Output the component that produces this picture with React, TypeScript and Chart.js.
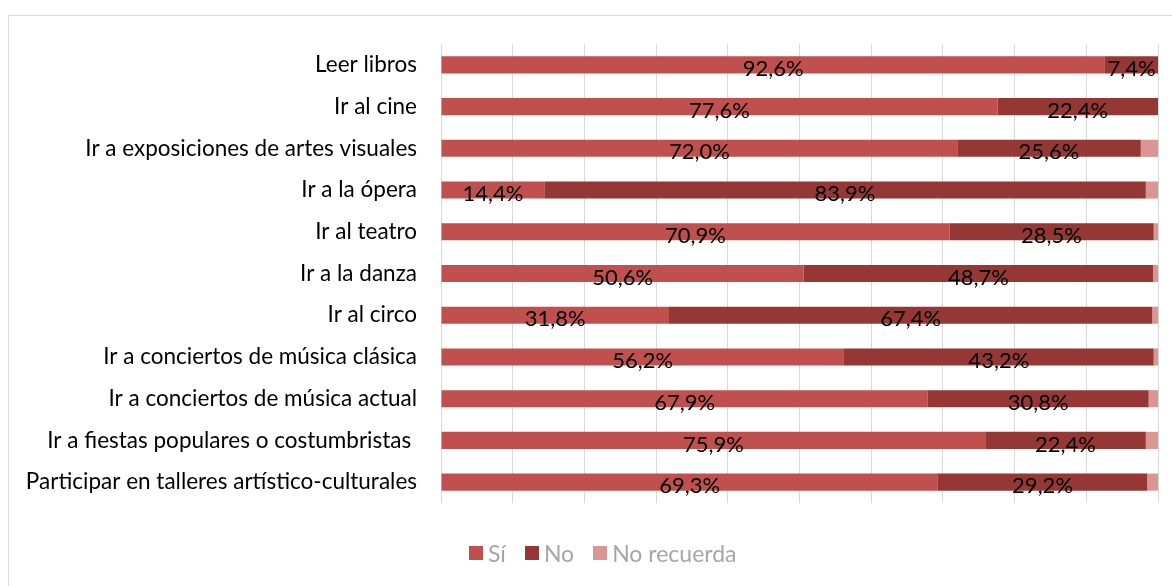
import React, { useEffect, useRef } from "react";
import { Chart, registerables } from "chart.js";

Chart.register(...registerables);

const categories = [
  "Leer libros",
  "Ir al cine",
  "Ir a exposiciones de artes visuales",
  "Ir a la ópera",
  "Ir al teatro",
  "Ir a la danza",
  "Ir al circo",
  "Ir a conciertos de música clásica",
  "Ir a conciertos de música actual",
  "Ir a fiestas populares o costumbristas ",
  "Participar en talleres artístico-culturales",
];

const siValues = [92.6, 77.6, 72.0, 14.4, 70.9, 50.6, 31.8, 56.2, 67.9, 75.9, 69.3];
const noValues = [7.4, 22.4, 25.6, 83.9, 28.5, 48.7, 67.4, 43.2, 30.8, 22.4, 29.2];
const noRecuerdaValues = [0, 0, 2.4, 1.7, 0.6, 0.7, 0.8, 0.6, 1.3, 1.7, 1.5];

const seriesNames = ["Sí", "No", "No recuerda"];
const seriesColors = ["#C0504D", "#953735", "#D99694"];
const labelledSeries = [0, 1];

const FONT = "Lato, 'Open Sans', sans-serif";

const fmt = (v: number) => v.toFixed(1).replace(".", ",") + "%";

const dataLabelPlugin = {
  id: "dataLabels",
  afterDatasetsDraw(chart: any) {
    const ctx = chart.ctx;
    ctx.save();
    ctx.font = `22px ${FONT}`;
    ctx.fillStyle = "#000000";
    ctx.textAlign = "center";
    ctx.textBaseline = "middle";
    labelledSeries.forEach((di) => {
      const meta = chart.getDatasetMeta(di);
      const ds = chart.data.datasets[di];
      meta.data.forEach((el: any, i: number) => {
        const v = ds.data[i] as number;
        if (!v) return;
        const p = el.getProps(["x", "base", "y"], true);
        ctx.fillText(fmt(v), (p.x + p.base) / 2, p.y + 4);
      });
    });
    ctx.restore();
  },
};

export default function App() {
  const canvasRef = useRef<HTMLCanvasElement | null>(null);

  useEffect(() => {
    const canvas = canvasRef.current;
    if (!canvas) return;
    const chart = new Chart(canvas, {
      type: "bar",
      data: {
        labels: categories,
        datasets: seriesNames.map((name, i) => ({
          label: name,
          data: [siValues, noValues, noRecuerdaValues][i],
          backgroundColor: seriesColors[i],
          borderWidth: 0,
          categoryPercentage: 1,
          barPercentage: 0.41,
        })),
      },
      options: {
        indexAxis: "y",
        animation: false,
        responsive: false,
        maintainAspectRatio: false,
        layout: { padding: { top: 44, right: 14, bottom: 83, left: 0 } },
        plugins: {
          legend: { display: false },
          tooltip: { enabled: false },
        },
        scales: {
          x: {
            stacked: true,
            min: 0,
            max: 100,
            ticks: { display: false, stepSize: 10 },
            grid: { color: "#D9D9D9", lineWidth: 1, drawTicks: false },
            border: { display: false },
          },
          y: {
            stacked: true,
            grid: { display: false, drawTicks: false },
            border: { display: false },
            ticks: {
              padding: 24,
              color: "#000000",
              font: { family: FONT, size: 22.5 },
            },
            afterFit: (s: any) => {
              s.width = 441;
            },
          },
        },
      },
      plugins: [dataLabelPlugin],
    });
    return () => chart.destroy();
  }, []);

  return (
    <div style={{ position: "fixed", left: 0, top: 0, width: 1172, height: 586, overflow: "hidden", background: "#fff" }}>
      <div
        style={{
          position: "absolute",
          left: 8,
          top: 15,
          width: 1200,
          height: 620,
          border: "1px solid #D9D9D9",
          boxSizing: "border-box",
        }}
      />
      <canvas ref={canvasRef} width={1172} height={586} style={{ position: "absolute", left: 0, top: 0 }} />
      <div
        style={{
          position: "absolute",
          left: 469,
          top: 539,
          display: "flex",
          alignItems: "center",
          fontFamily: FONT,
          fontSize: 23,
          color: "#A6A6A6",
          whiteSpace: "nowrap",
        }}
      >
        {seriesNames.map((name, i) => (
          <div key={name} style={{ display: "flex", alignItems: "center", marginRight: 19 }}>
            <span style={{ display: "inline-block", width: 14, height: 14, background: seriesColors[i], marginRight: 5 }} />
            <span>{name}</span>
          </div>
        ))}
      </div>
    </div>
  );
}
